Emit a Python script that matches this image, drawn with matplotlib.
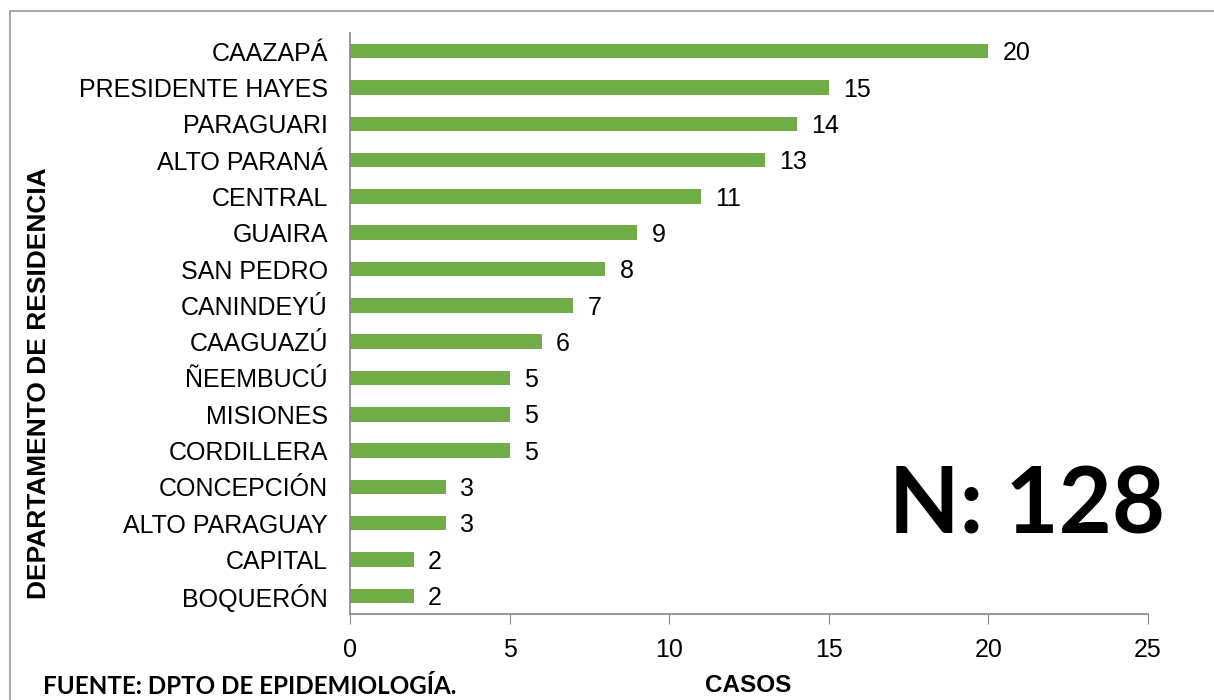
import matplotlib.pyplot as plt
from matplotlib.patches import Rectangle

departamentos = ['CAAZAPÁ', 'PRESIDENTE HAYES', 'PARAGUARI', 'ALTO PARANÁ', 'CENTRAL',
                 'GUAIRA', 'SAN PEDRO', 'CANINDEYÚ', 'CAAGUAZÚ', 'ÑEEMBUCÚ', 'MISIONES',
                 'CORDILLERA', 'CONCEPCIÓN', 'ALTO PARAGUAY', 'CAPITAL', 'BOQUERÓN']
casos = [20, 15, 14, 13, 11, 9, 8, 7, 6, 5, 5, 5, 3, 3, 2, 2]
x_ticks = [0, 5, 10, 15, 20, 25]

plt.rcParams['font.family'] = ['Liberation Sans', 'DejaVu Sans']

fig = plt.figure(figsize=(12.14, 7.0), dpi=100)
ax = fig.add_axes([350 / 1214, 1 - 614 / 700, (1148 - 350) / 1214, (614 - 33) / 700])

# bottom-to-top order so the biggest is on top
labels = departamentos[::-1]
vals = casos[::-1]
pos = list(range(len(labels)))
ax.barh(pos, vals, height=0.4, color='#70AD47')
for p, v in zip(pos, vals):
    ax.text(v + 0.45, p - 0.06, str(v), va='center', ha='left', fontsize=18)

ax.set_xlim(0, 25)
ax.set_ylim(-0.5, len(labels) - 0.5)
ax.set_yticks(pos)
ax.set_yticklabels(labels, fontsize=18)
ax.tick_params(axis='y', length=0, pad=16)
ax.set_xticks(x_ticks)
ax.set_xticklabels([str(t) for t in x_ticks], fontsize=18)
ax.tick_params(axis='x', length=7, color='#868686', pad=10)
for s in ['top', 'right']:
    ax.spines[s].set_visible(False)
for s in ['left', 'bottom']:
    ax.spines[s].set_color('#868686')
    ax.spines[s].set_linewidth(1.2)

fig.text(39 / 1214, 1 - 383 / 700, 'DEPARTAMENTO DE RESIDENCIA', rotation=90,
         ha='center', va='center', fontsize=19, fontweight='bold')
fig.text(748 / 1214, 1 - 686 / 700, 'CASOS', ha='center', va='center',
         fontsize=17.5, fontweight='bold')
fig.text(43 / 1214, 1 - 686 / 700, 'FUENTE: DPTO DE EPIDEMIOLOGÍA.', ha='left', va='center',
         fontsize=17.4, fontweight='bold', family=['Lato', 'DejaVu Sans'])
fig.text(1027 / 1214, 1 - 507 / 700, 'N: 128', ha='center', va='center',
         fontsize=66, fontweight='bold', family=['Lato', 'DejaVu Sans'])

fig.patches.append(Rectangle((10 / 1214, -0.1), 1.2, 1.1 - 11 / 700, transform=fig.transFigure,
                             fill=False, edgecolor='#999999', linewidth=1.2))

fig.savefig('out.png', dpi=100)
